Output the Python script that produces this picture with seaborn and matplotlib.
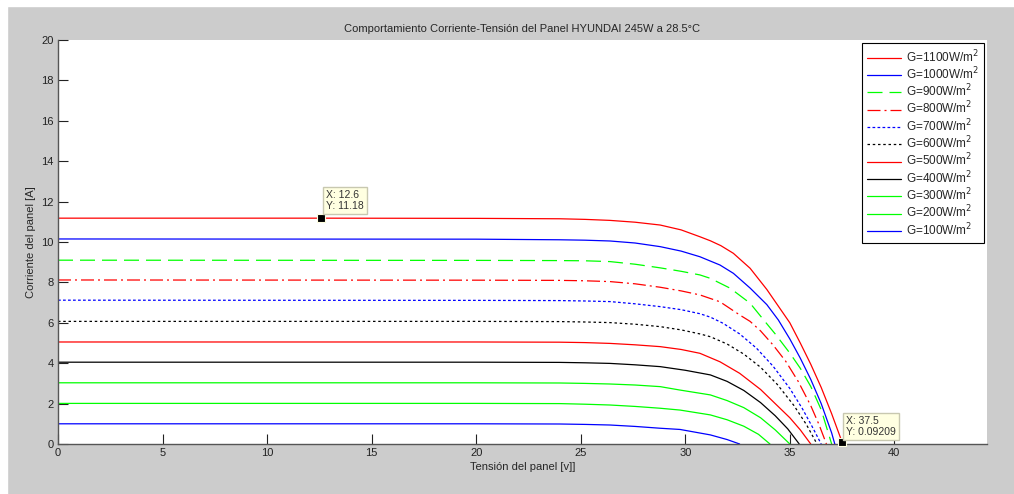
import matplotlib
matplotlib.use("Agg")
import matplotlib.pyplot as plt
from matplotlib.patches import Rectangle
import seaborn as sns

# ---------------- data ----------------
labels = ["G=1100W/m$^2$", "G=1000W/m$^2$", "G=900W/m$^2$", "G=800W/m$^2$",
          "G=700W/m$^2$", "G=600W/m$^2$", "G=500W/m$^2$", "G=400W/m$^2$",
          "G=300W/m$^2$", "G=200W/m$^2$", "G=100W/m$^2$"]

v_1100 = [0, 12.6, 20, 24, 25.2, 26.4, 27.6, 28.8, 29.8, 30.7, 31.2, 31.7, 32.3, 33.1, 33.9, 34.5, 35.0, 35.5, 36.0, 36.5, 37.0, 37.5, 37.53]
i_1100 = [11.18, 11.18, 11.17, 11.15, 11.12, 11.07, 10.98, 10.84, 10.6, 10.26, 10.06, 9.82, 9.44, 8.70, 7.65, 6.75, 6.0, 5.0, 3.95, 2.8, 1.5, 0.092, 0]

v_1000 = [0, 20, 24, 25.2, 26.4, 27.6, 28.8, 29.8, 30.7, 31.66, 32.3, 33.1, 33.9, 34.45, 35.0, 35.5, 36.0, 36.5, 37.0, 37.15]
i_1000 = [10.15, 10.14, 10.11, 10.09, 10.05, 9.95, 9.77, 9.55, 9.27, 8.86, 8.45, 7.72, 6.9, 6.14, 5.2, 4.25, 3.2, 2.0, 0.55, 0]

v_900 = [0, 20, 24, 25.2, 26.4, 27.6, 28.8, 29.8, 30.7, 31.2, 32.15, 33.1, 33.75, 34.3, 35.0, 35.5, 36.0, 36.5, 37.0]
i_900 = [9.1, 9.09, 9.08, 9.07, 9.03, 8.9, 8.72, 8.55, 8.37, 8.20, 7.71, 6.97, 6.14, 5.45, 4.5, 3.75, 2.85, 1.7, 0]

v_800 = [0, 20, 24, 25.2, 26.4, 27.6, 28.8, 29.8, 30.7, 31.66, 32.6, 33.1, 33.6, 34.2, 34.8, 35.4, 36.0, 36.4, 36.75]
i_800 = [8.12, 8.11, 8.1, 8.08, 8.04, 7.93, 7.76, 7.58, 7.38, 7.04, 6.39, 6.07, 5.6, 4.9, 4.1, 3.1, 1.9, 0.95, 0]

v_700 = [0, 20, 24, 25.2, 26.4, 27.6, 28.8, 29.8, 30.7, 31.2, 31.8, 32.6, 33.4, 34.2, 35.0, 35.6, 36.1, 36.5]
i_700 = [7.12, 7.11, 7.1, 7.08, 7.05, 6.94, 6.80, 6.65, 6.45, 6.28, 5.98, 5.45, 4.75, 3.85, 2.75, 1.75, 0.8, 0]

v_600 = [0, 20, 24, 25.2, 26.4, 27.6, 28.8, 29.8, 30.7, 31.2, 32.0, 32.8, 33.6, 34.4, 35.2, 35.8, 36.3]
i_600 = [6.07, 6.07, 6.06, 6.04, 6.01, 5.93, 5.81, 5.65, 5.45, 5.31, 4.95, 4.45, 3.8, 2.95, 1.9, 0.95, 0]

v_500 = [0, 20, 24, 25.2, 26.4, 27.6, 28.8, 29.8, 30.7, 31.66, 32.6, 33.6, 34.4, 35.0, 35.5, 36.0]
i_500 = [5.05, 5.05, 5.04, 5.02, 4.98, 4.91, 4.82, 4.68, 4.49, 4.07, 3.5, 2.7, 1.9, 1.3, 0.7, 0]

v_400 = [0, 20, 24, 25.2, 26.4, 27.6, 28.8, 30.0, 31.2, 32.0, 32.8, 33.6, 34.3, 34.9, 35.45]
i_400 = [4.05, 4.05, 4.04, 4.02, 3.99, 3.92, 3.83, 3.65, 3.42, 3.1, 2.65, 2.05, 1.4, 0.75, 0]

v_300 = [0, 20, 24, 25.2, 26.4, 27.6, 28.8, 29.75, 31.2, 32.0, 32.8, 33.6, 34.3, 35.0]
i_300 = [3.03, 3.03, 3.02, 3.0, 2.97, 2.92, 2.84, 2.67, 2.43, 2.15, 1.8, 1.3, 0.7, 0]

v_200 = [0, 20, 24, 25.2, 26.4, 27.6, 28.8, 29.75, 31.2, 32.0, 32.8, 33.5, 34.05]
i_200 = [2.01, 2.01, 2.0, 1.97, 1.93, 1.86, 1.77, 1.68, 1.44, 1.2, 0.88, 0.48, 0]

v_100 = [0, 20, 24, 25.2, 26.4, 27.6, 28.8, 29.75, 31.2, 32.0, 32.6]
i_100 = [1.0, 1.0, 0.99, 0.97, 0.94, 0.87, 0.78, 0.72, 0.45, 0.22, 0]

voltages = [v_1100, v_1000, v_900, v_800, v_700, v_600, v_500, v_400, v_300, v_200, v_100]
currents = [i_1100, i_1000, i_900, i_800, i_700, i_600, i_500, i_400, i_300, i_200, i_100]

colors = ["#ff0000", "#0000ff", "#00ff00", "#ff0000", "#0000ff", "#000000",
          "#ff0000", "#000000", "#00ff00", "#00ff00", "#0000ff"]
styles = ["-", "-", (0, (12, 5.6)), (0, (10.4, 3.2, 1.6, 3.2)), (0, (2.2, 1.8)),
          (0, (2.0, 2.2)), "-", "-", "-", "-", "-"]

tip_x = [12.6, 37.5]
tip_y = [11.18, 0.09209]
tip_text = ["X: 12.6\nY: 11.18", "X: 37.5\nY: 0.09209"]

title = "Comportamiento Corriente-Tensión del Panel HYUNDAI 245W a 28.5°C"
xlabel = "Tensión del panel [v]]"
ylabel = "Corriente del panel [A]"
xticks = [0, 5, 10, 15, 20, 25, 30, 35, 40]
yticks = [0, 2, 4, 6, 8, 10, 12, 14, 16, 18, 20]

# ---------------- drawing ----------------
sns.set_style("ticks")
plt.rcParams["font.family"] = ["Liberation Sans", "DejaVu Sans"]

fig = plt.figure(figsize=(10.14, 4.94), dpi=100, facecolor="#cccccc")
fig.patches.append(Rectangle((0, 1 - 6 / 494), 1, 6 / 494, transform=fig.transFigure,
                             color="white", zorder=0))
fig.patches.append(Rectangle((0, 0), 7 / 1014, 1, transform=fig.transFigure,
                             color="white", zorder=0))

ax = fig.add_axes([58 / 1014, 50 / 494, 929 / 1014, 404 / 494])
ax.set_facecolor("white")

for v, i, c, s, lab in zip(voltages, currents, colors, styles, labels):
    sns.lineplot(x=v, y=i, ax=ax, color=c, linestyle=s, linewidth=0.9,
                 label=lab, estimator=None, sort=False)

ax.set_xlim(0, 44.43)
ax.set_ylim(0, 20)
ax.set_xticks(xticks)
ax.set_yticks(yticks)
ax.tick_params(direction="in", length=7, width=0.8, labelsize=8, colors="#222222",
               pad=3)
for side in ["top", "right"]:
    ax.spines[side].set_visible(False)
for side in ["left", "bottom"]:
    ax.spines[side].set_color("#555555")
    ax.spines[side].set_linewidth(1.0)

ax.set_title(title, fontsize=8, pad=5.5)
ax.set_xlabel(xlabel, fontsize=8, labelpad=3)
ax.set_ylabel(ylabel, fontsize=8, labelpad=4)

# data tips
offsets = [(5, 7), (4, 5)]
for x, y, t, off in zip(tip_x, tip_y, tip_text, offsets):
    ax.plot([x], [y], marker="s", ms=6, mfc="black", mec="#ffffe1", mew=0.8,
            clip_on=False, zorder=5)
    ax.annotate(t, xy=(x, y), xytext=off, textcoords="offset pixels",
                ha="left", va="bottom", fontsize=7.5, color="#333333",
                linespacing=1.1,
                bbox=dict(boxstyle="square,pad=0.3", fc="#ffffe1", ec="#c8c8b0", lw=1),
                zorder=6)

leg = ax.legend(loc="upper right", fontsize=8.5, frameon=True, fancybox=False,
                edgecolor="black", framealpha=1, handlelength=2.9,
                borderaxespad=0.25, labelspacing=0.06, handletextpad=0.4,
                borderpad=0.45)
leg.get_frame().set_linewidth(0.8)

fig.savefig("out.png", dpi=100, facecolor=fig.get_facecolor())
